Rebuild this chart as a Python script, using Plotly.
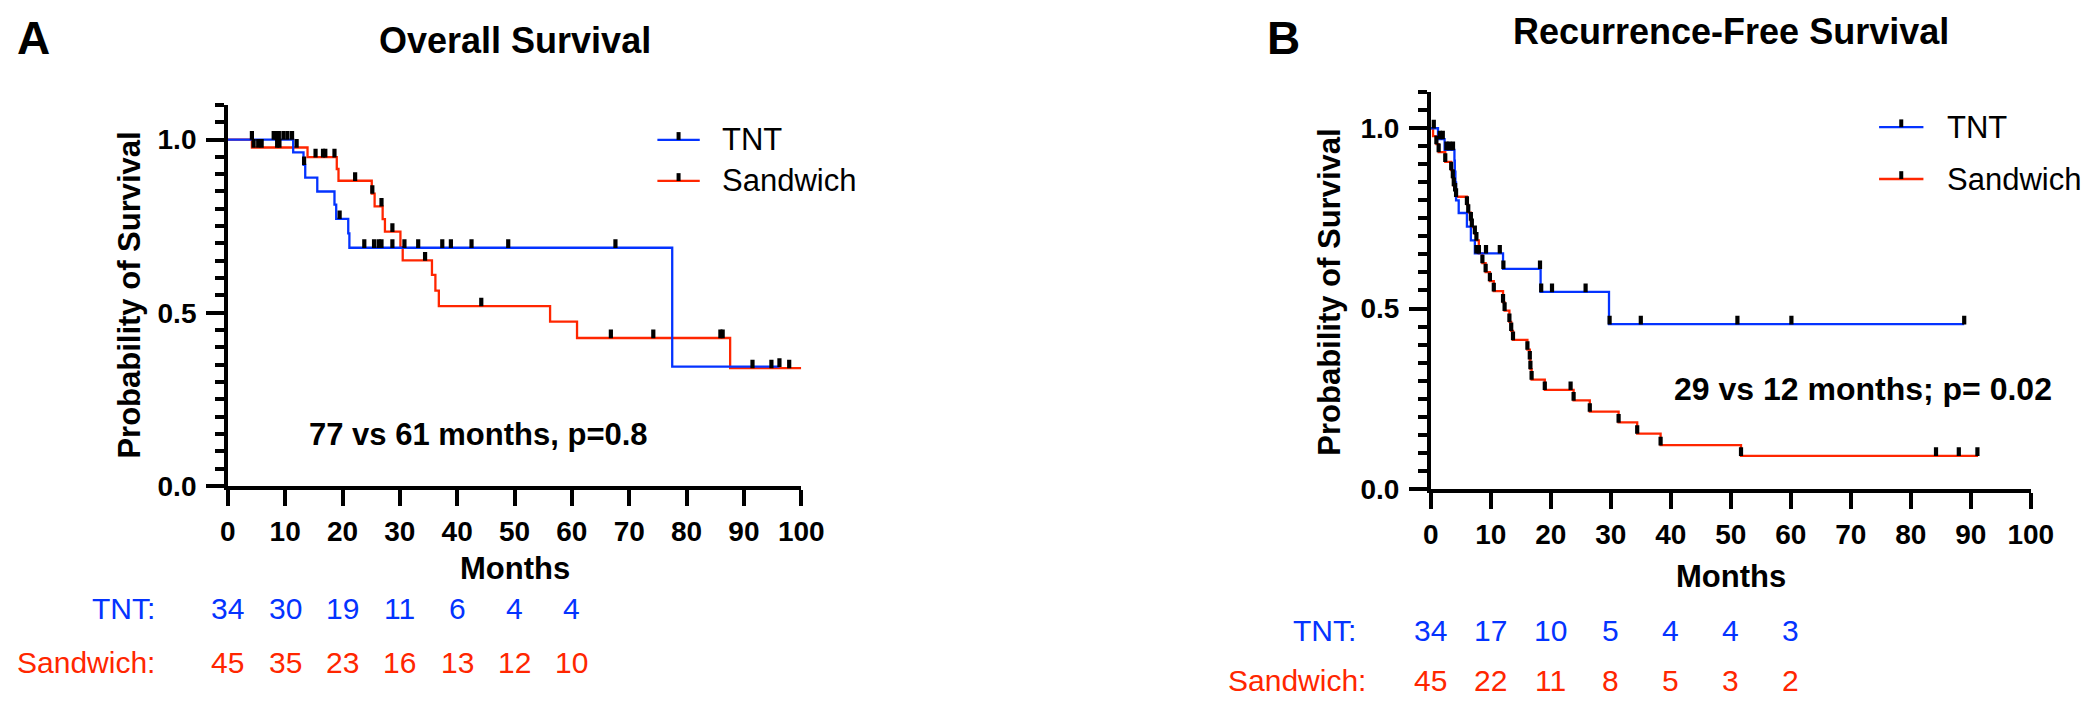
import numpy as np
import plotly.graph_objects as go

BLUE = "#0433FF"
RED = "#FF2600"
FONT = "Liberation Sans, Arial, Helvetica, sans-serif"

# ---------------- Panel A: Overall survival ----------------
os_tnt_t = [0, 11.4, 13.2, 13.5, 15.6, 18.6, 18.9, 21.0, 21.2, 77.5]
os_tnt_s = [1.0, 0.963, 0.927, 0.890, 0.850, 0.812, 0.771, 0.729, 0.6875, 0.344]
os_tnt_end = 96.2
os_tnt_cens = [4.2, 8.0, 8.5, 8.9, 9.7, 10.4, 11.2, 13.3, 19.5, 23.8, 25.5, 26.3, 26.8,
               28.7, 30.8, 33.2, 37.4, 38.9, 42.5, 48.9, 67.6, 96.2]

os_sand_t = [0, 4.2, 13.9, 19.0, 19.3, 25.1, 25.6, 27.0, 27.4, 30.1, 30.5, 35.6, 36.2,
             36.8, 56.2, 60.9, 87.6]
os_sand_s = [1.0, 0.977, 0.949, 0.915, 0.881, 0.844, 0.807, 0.770, 0.734, 0.689, 0.651,
             0.609, 0.564, 0.519, 0.474, 0.427, 0.340]
os_sand_end = 100.0
os_sand_cens = [4.5, 5.3, 5.9, 8.6, 9.0, 12.0, 15.3, 16.6, 17.0, 18.6, 22.2, 25.2, 26.8,
                28.7, 34.4, 44.2, 66.8, 74.2, 85.9, 86.3, 91.5, 94.8, 97.9]

# ---------------- Panel B: Recurrence-free survival ----------------
rfs_tnt_t = [0, 1.2, 2.3, 3.94, 4.0, 4.1, 4.21, 4.65, 6.02, 6.68, 7.34, 12.04, 18.3, 29.7]
rfs_tnt_s = [1.0, 0.97, 0.94, 0.91, 0.88, 0.85, 0.80, 0.765, 0.727, 0.689, 0.653, 0.610,
             0.546, 0.4565]
rfs_tnt_end = 88.9
rfs_tnt_cens = [0.5, 1.5, 2.0, 2.6, 3.1, 3.7, 7.6, 8.0, 9.2, 11.5, 12.1, 18.2, 18.4, 20.2,
                25.8, 29.8, 35.0, 51.1, 60.1, 88.9]

rfs_sand_t = [0, 0.38, 0.93, 1.31, 2.41, 3.4, 3.67, 3.83, 4.05, 4.21, 6.02, 6.24, 6.68,
              6.84, 7.34, 7.6, 8.0, 8.6, 9.14, 9.85, 10.5, 12.04, 12.3, 13.1, 13.4, 13.7,
              16.1, 16.5, 16.6, 16.8, 19.0, 23.8, 26.5, 31.3, 34.4, 38.3, 51.7]
rfs_sand_s = [1.0, 0.978, 0.956, 0.934, 0.907, 0.884, 0.862, 0.840, 0.825, 0.810, 0.788,
              0.766, 0.744, 0.726, 0.707, 0.689, 0.653, 0.626, 0.601, 0.576, 0.548, 0.517,
              0.494, 0.463, 0.438, 0.413, 0.386, 0.359, 0.332, 0.303, 0.2745, 0.245, 0.214,
              0.184, 0.153, 0.121, 0.0915]
rfs_sand_end = 91.2
rfs_sand_cens = [0.93, 1.31, 2.41, 3.4, 3.67, 3.83, 4.05, 4.21, 6.02, 6.24, 6.68, 6.84,
                 7.34, 7.6, 8.0, 8.6, 9.14, 9.85, 10.5, 12.04, 12.3, 13.1, 13.4, 13.7, 16.1,
                 16.5, 16.6, 16.8, 19.0, 23.3, 23.8, 26.5, 31.3, 34.4, 38.3, 51.7, 84.2,
                 88.0, 91.1]

# ---------------- Numbers at risk ----------------
risk_times = [0, 10, 20, 30, 40, 50, 60]
os_risk_tnt = [34, 30, 19, 11, 6, 4, 4]
os_risk_sand = [45, 35, 23, 16, 13, 12, 10]
rfs_risk_tnt = [34, 17, 10, 5, 4, 4, 3]
rfs_risk_sand = [45, 22, 11, 8, 5, 3, 2]

W, H = 2100, 702
YMAX = 1.1005


def px(x):
    return x / W


def py(y):
    return 1 - y / H


# axis geometry (pixels)
A_X = (215, 797)
A_Y = (489, 99)   # y=0 pixel, y=1.1 pixel
B_X = (1436, 2045)
B_Y = (492, 86)

fig = go.Figure()


def step_val(ts, ss, tc):
    ts = np.asarray(ts, float)
    ss = np.asarray(ss, float)
    idx = np.searchsorted(ts, np.asarray(tc, float), side="right") - 1
    return ss[idx]


def add_curve(ts, ss, end, color, xa, ya):
    x = list(ts) + [end]
    y = list(ss) + [ss[-1]]
    fig.add_trace(go.Scatter(x=x, y=y, mode="lines", line=dict(color=color, width=2.3, shape="hv"),
                             xaxis=xa, yaxis=ya, hoverinfo="skip"))


def add_cens(ts, ss, cens, ya_px, xa, ya):
    px_per_unit = (ya_px[0] - ya_px[1]) / 1.1
    off = 4.2 / px_per_unit
    yv = step_val(ts, ss, cens) + off
    fig.add_trace(go.Scatter(x=cens, y=yv, mode="markers",
                             marker=dict(symbol="line-ns", size=6.2,
                                         line=dict(color="black", width=4.2)),
                             xaxis=xa, yaxis=ya, hoverinfo="skip"))


# Panel A
add_curve(os_sand_t, os_sand_s, os_sand_end, RED, "x", "y")
add_curve(os_tnt_t, os_tnt_s, os_tnt_end, BLUE, "x", "y")
add_cens(os_sand_t, os_sand_s, os_sand_cens, A_Y, "x", "y")
add_cens(os_tnt_t, os_tnt_s, os_tnt_cens, A_Y, "x", "y")

# Panel B
add_curve(rfs_sand_t, rfs_sand_s, rfs_sand_end, RED, "x2", "y2")
add_curve(rfs_tnt_t, rfs_tnt_s, rfs_tnt_end, BLUE, "x2", "y2")
add_cens(rfs_sand_t, rfs_sand_s, rfs_sand_cens, B_Y, "x2", "y2")
add_cens(rfs_tnt_t, rfs_tnt_s, rfs_tnt_cens, B_Y, "x2", "y2")

tickfont = dict(family=FONT, size=28, color="black", weight="bold")


def xaxis_cfg(dom):
    return dict(domain=[px(dom[0]), px(dom[1])], range=[0, 100], tickvals=list(range(0, 101, 10)),
                showline=True, linecolor="black", linewidth=3.5, ticks="outside", ticklen=16,
                tickwidth=3.5, tickcolor="black", tickfont=tickfont, showgrid=False,
                zeroline=False, ticklabelstandoff=2, fixedrange=True)


def yaxis_cfg(dom, anchor):
    return dict(domain=[py(dom[0]), py(dom[1])], range=[0, YMAX], tickvals=[0, 0.5, 1.0],
                ticktext=["0.0", "0.5", "1.0"], showline=True, linecolor="black", linewidth=3.5,
                ticks="outside", ticklen=18, tickwidth=3.5, tickcolor="black", tickfont=tickfont,
                showgrid=False, zeroline=False, anchor=anchor, ticklabelstandoff=4,
                minor=dict(dtick=0.05, tick0=0, ticks="outside", ticklen=9, tickwidth=3.5,
                           tickcolor="black", showgrid=False),
                fixedrange=True)


fig.update_layout(
    width=W, height=H, margin=dict(l=0, r=0, t=0, b=0),
    paper_bgcolor="white", plot_bgcolor="white", showlegend=False,
    xaxis=dict(xaxis_cfg(A_X), anchor="y"),
    yaxis=yaxis_cfg(A_Y, "x"),
    xaxis2=dict(xaxis_cfg(B_X), anchor="y2"),
    yaxis2=yaxis_cfg(B_Y, "x2"),
    font=dict(family=FONT, color="black"),
)

ann = []


def text(x, y, s, size, bold=True, color="black", xanchor="center", angle=0):
    ann.append(dict(x=px(x), y=py(y), xref="paper", yref="paper", text=s, showarrow=False,
                    xanchor=xanchor, yanchor="middle", textangle=angle,
                    font=dict(family=FONT, size=size, color=color,
                              weight="bold" if bold else "normal")))


# panel letters and titles
text(18, 31, "A", 46)
text(506, 33, "Overall Survival", 36)
text(1286, 31, "B", 46)
text(1741, 24, "Recurrence-Free Survival", 36)

# axis titles
text(115, 294, "Probability of Survival", 31, angle=-90)
text(1333, 291, "Probability of Survival", 31, angle=-90)
text(506, 574, "Months", 31)
text(1741, 582, "Months", 31)

# in-plot statistics
text(469, 436, "77 vs 61 months, p=0.8", 31)
text(1875, 390, "29 vs 12 months; p= 0.02", 32)

# legends
shapes = []


def legend_item(x0, x1, y, color, label, tx):
    shapes.append(dict(type="line", xref="paper", yref="paper", x0=px(x0), x1=px(x1),
                       y0=py(y), y1=py(y), line=dict(color=color, width=2.3)))
    xm = (x0 + x1) / 2
    shapes.append(dict(type="line", xref="paper", yref="paper", x0=px(xm), x1=px(xm),
                       y0=py(y), y1=py(y - 8), line=dict(color="black", width=4)))
    text(tx, y, label, 31, bold=False, xanchor="left")


legend_item(651, 694, 135, BLUE, "TNT", 715)
legend_item(651, 694, 177, RED, "Sandwich", 715)
legend_item(1891, 1936, 122, BLUE, "TNT", 1958)
legend_item(1891, 1936, 175, RED, "Sandwich", 1958)

# numbers at risk
text(143, 615, "TNT:", 30, bold=False, color=BLUE, xanchor="right")
text(143, 670, "Sandwich:", 30, bold=False, color=RED, xanchor="right")
text(1362, 637, "TNT:", 30, bold=False, color=BLUE, xanchor="right")
text(1372, 688, "Sandwich:", 30, bold=False, color=RED, xanchor="right")

for xa, vals, y, col in [("x", os_risk_tnt, 615, BLUE), ("x", os_risk_sand, 670, RED),
                         ("x2", rfs_risk_tnt, 637, BLUE), ("x2", rfs_risk_sand, 688, RED)]:
    for t, v in zip(risk_times, vals):
        ann.append(dict(x=t, y=py(y), xref=xa, yref="paper", text=str(v), showarrow=False,
                        xanchor="center", yanchor="middle",
                        font=dict(family=FONT, size=30, color=col)))

fig.update_layout(annotations=ann, shapes=shapes)
fig.write_html("out.html")
